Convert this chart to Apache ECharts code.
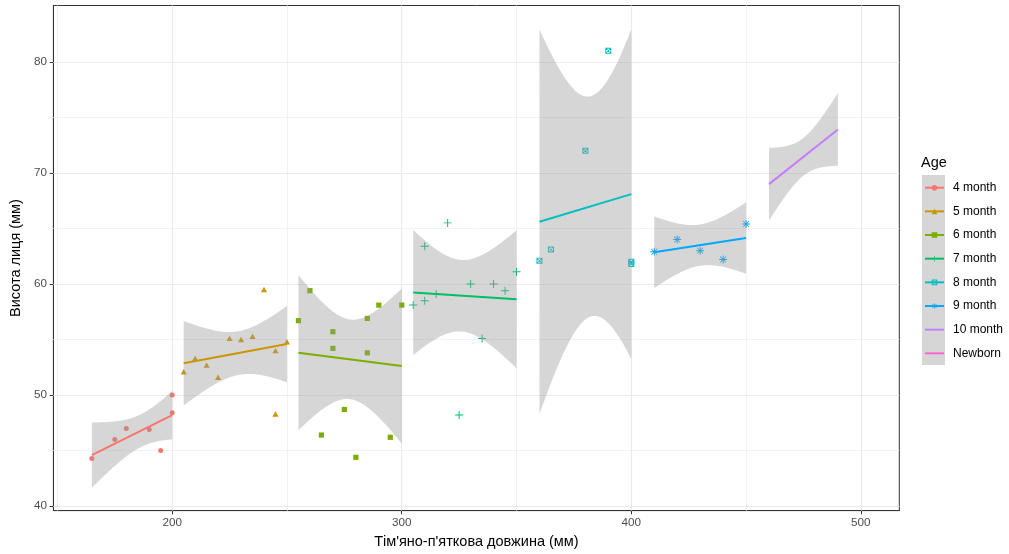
<!DOCTYPE html>
<html><head><meta charset="utf-8">
<script src="https://cdn.jsdelivr.net/npm/echarts@6/dist/echarts.min.js"></script>
<style>html,body{margin:0;padding:0;background:#fff}#c{width:1009px;height:554px}</style>
</head><body><div id="c"></div>
<script>
// ---------- data ----------
const groups = ['4 month','5 month','6 month','7 month','8 month','9 month','10 month','Newborn'];
const colors = ['#F8766D','#CD9600','#7CAE00','#00BE67','#00BFC4','#00A9FF','#C77CFF','#FF61CC'];

const x4 = [165,175,180,190,195,200,200];
const y4 = [44.3,46.0,47.0,46.9,45.0,48.4,50.0];
const x5 = [205,210,215,220,225,230,235,240,245,245,250];
const y5 = [52.1,53.3,52.7,51.6,55.1,55.0,55.3,59.5,54.0,48.3,54.8];
const x6 = [255,260,265,270,270,275,280,285,285,290,295,300];
const y6 = [56.7,59.4,46.4,55.7,54.2,48.7,44.4,56.9,53.8,58.1,46.2,58.1];
const x7 = [305,310,310,315,320,325,330,335,340,345,350];
const y7 = [58.1,58.5,63.4,59.1,65.5,48.2,60.0,55.1,60.0,59.4,61.1];
const x8 = [360,365,380,390,400,400];
const y8 = [62.1,63.1,72.0,81.0,61.8,62.0];
const x9 = [410,420,430,440,450];
const y9 = [62.9,64.0,63.0,62.2,65.4];
// 10 month: present in the data but drawn without a point shape (only its fit shows)
const x10 = [460,470,475,475,480,490];
const y10 = [69.0,72.1,69.95,69.95,73.8,73.9];
const xNewborn = [];
const yNewborn = [];

const xTicks = [200,300,400,500];
const xMinor = [150,250,350,450];
const yTicks = [40,50,60,70,80];
const yMinor = [45,55,65,75];

const groupX = [x4,x5,x6,x7,x8,x9,x10,xNewborn];
const groupY = [y4,y5,y6,y7,y8,y9,y10,yNewborn];
const showPoints = [true,true,true,true,true,true,false,false];

// ---------- styling ----------
const FONT = '"Liberation Sans", Arial, sans-serif';
const PLUS = 'path://M0,4.4H10V5.6H0Z M4.4,0H5.6V10H4.4Z';
const BOXX = 'path://M0,0H10V10H0Z M1.6,1.6V8.4H8.4V1.6Z M0.6,1.3L1.3,0.6L9.4,8.7L8.7,9.4Z M8.7,0.6L9.4,1.3L1.3,9.4L0.6,8.7Z';
const STAR = 'path://M0,4.4H10V5.6H0Z M4.4,0H5.6V10H4.4Z M1.0,1.7L1.7,1.0L9.0,8.3L8.3,9.0Z M8.3,1.0L9.0,1.7L1.7,9.0L1.0,8.3Z';
const shapes = ['circle','triangle','rect',PLUS,BOXX,STAR,'none','none'];
const sizes = [5,[6.2,5.4],5.2,8,6,8,0,0];

// t quantiles (0.975) by degrees of freedom
const T975 = {1:12.706,2:4.303,3:3.182,4:2.776,5:2.571,6:2.447,7:2.365,8:2.306,9:2.262,10:2.228,11:2.201,12:2.179,13:2.160};

function lmFit(xs, ys){
  const n = xs.length;
  if (n < 3) return null;
  const mx = xs.reduce((a,b)=>a+b,0)/n, my = ys.reduce((a,b)=>a+b,0)/n;
  let sxx=0, sxy=0;
  for (let i=0;i<n;i++){ sxx += (xs[i]-mx)**2; sxy += (xs[i]-mx)*(ys[i]-my); }
  const b = sxy/sxx, a = my - b*mx;
  let sse = 0;
  for (let i=0;i<n;i++){ sse += (ys[i]-a-b*xs[i])**2; }
  const s = Math.sqrt(sse/(n-2));
  const t = T975[n-2];
  const x0 = Math.min(...xs), x1 = Math.max(...xs);
  const band = [];
  const N = 80;
  for (let k=0;k<N;k++){
    const x = x0 + (x1-x0)*k/(N-1);
    const f = a + b*x;
    const hw = t*s*Math.sqrt(1/n + (x-mx)**2/sxx);
    band.push([x, f-hw, f+hw]);
  }
  return {line:[[x0,a+b*x0],[x1,a+b*x1]], band, center:[mx,my]};
}

const fits = groupX.map((xs,i)=>lmFit(xs, groupY[i]));

const series = [];
// gridlines (drawn through the axes as mark lines)
series.push({
  type:'line', name:'__grid', data:[], z:1, silent:true,
  markLine:{
    z:1,
    silent:true, symbol:['none','none'], label:{show:false}, animation:false,
    emphasis:{disabled:true},
    data:[
      ...xMinor.map(v=>({xAxis:v, lineStyle:{color:'#F2F2F2', width:1, type:'solid'}})),
      ...yMinor.map(v=>({yAxis:v, lineStyle:{color:'#F2F2F2', width:1, type:'solid'}})),
      ...xTicks.map(v=>({xAxis:v, lineStyle:{color:'#EBEBEB', width:1.2, type:'solid'}})),
      ...yTicks.map(v=>({yAxis:v, lineStyle:{color:'#EBEBEB', width:1.2, type:'solid'}}))
    ]
  }
});
// fit lines first (legend icons come from them)
groups.forEach((g,i)=>{
  const f = fits[i];
  series.push({
    type:'line', name:g, data: f ? f.line : [], z:5,
    symbol: shapes[i], symbolSize: sizes[i],
    showSymbol:false, silent:true,
    itemStyle:{color:colors[i]},
    lineStyle:{color:colors[i], width:2},
    emphasis:{disabled:true}
  });
});
// confidence ribbons
groups.forEach((g,i)=>{
  const f = fits[i];
  if (!f) return;
  series.push({
    type:'custom', name:g, z:4, silent:true,
    data:[f.center],
    encode:{x:0,y:1},
    renderItem:(params, api)=>{
      const pts = [];
      f.band.forEach(b=>pts.push(api.coord([b[0], b[2]])));
      for (let k=f.band.length-1;k>=0;k--) pts.push(api.coord([f.band[k][0], f.band[k][1]]));
      return {type:'polygon', shape:{points:pts}, style:{fill:'rgba(153,153,153,0.4)'}};
    }
  });
});
// points
groups.forEach((g,i)=>{
  if (!showPoints[i]) return;
  series.push({
    type:'scatter', name:g, z:3, silent:true,
    data: groupX[i].map((x,k)=>[x, groupY[i][k]]),
    symbol: shapes[i], symbolSize: sizes[i],
    itemStyle:{color:colors[i], opacity:1},
    emphasis:{disabled:true}
  });
});

const legendData = groups.map((g,i)=> shapes[i]==='none'
  ? {name:g, icon:'path://M0,0H20V2H0Z', itemStyle:{color:colors[i]}}
  : {name:g});

const option = {
  animation:false,
  textStyle:{fontFamily:FONT},
  grid:{left:48.5, right:109.7, top:5.5, bottom:41.4, show:true, borderColor:'#333333', borderWidth:1, backgroundColor:'transparent'},
  xAxis:{
    type:'value', min:148.25, max:516.75,
    name:"Тім'яно-п'яткова довжина (мм)", nameLocation:'middle', nameGap:22,
    nameTextStyle:{fontSize:14.5, color:'#000', fontFamily:FONT},
    axisLine:{show:true, lineStyle:{color:'#333333', width:1}},
    axisTick:{show:true, length:3.7, customValues:xTicks, lineStyle:{color:'#333333', width:1}},
    axisLabel:{customValues:xTicks, color:'#4D4D4D', fontSize:11.7, margin:6.5, fontFamily:FONT},
    splitLine:{show:false}, minorSplitLine:{show:false}
  },
  yAxis:{
    type:'value', min:39.6, max:85.07,
    name:'Висота лиця (мм)', nameLocation:'middle', nameGap:23,
    nameTextStyle:{fontSize:14.5, color:'#000', fontFamily:FONT},
    axisLine:{show:true, lineStyle:{color:'#333333', width:1}},
    axisTick:{show:true, length:3.7, customValues:yTicks, lineStyle:{color:'#333333', width:1}},
    axisLabel:{customValues:yTicks, color:'#4D4D4D', fontSize:11.7, margin:6.5, fontFamily:FONT},
    splitLine:{show:false}, minorSplitLine:{show:false}
  },
  title:{text:'Age', left:921, top:155, padding:0, textStyle:{fontSize:14.5, fontWeight:'normal', color:'#000', fontFamily:FONT}},
  graphic:[{type:'rect', left:922, top:175, z:0, shape:{width:23, height:190}, style:{fill:'#D6D6D6'}}],
  legend:{
    orient:'vertical', left:924, top:181.7, padding:0,
    itemWidth:19, itemHeight:7, itemGap:11.66, selectedMode:false,
    textStyle:{fontSize:12, color:'#000', fontFamily:FONT, padding:[0,0,0,4]},
    data:legendData
  },
  series
};
const chart = echarts.init(document.getElementById('c'), null, {renderer:'canvas'});
chart.setOption(option);
</script></body></html>
